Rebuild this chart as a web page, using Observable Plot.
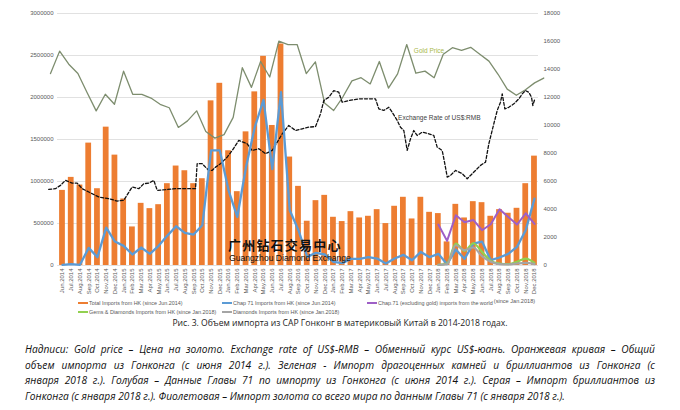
<!DOCTYPE html>
<html><head><meta charset="utf-8">
<script src="https://cdn.jsdelivr.net/npm/d3@7"></script>
<script src="https://cdn.jsdelivr.net/npm/@observablehq/plot@0.6"></script>
<style>
body{margin:0;background:#fff;}
#wrap{position:relative;width:680px;height:410px;overflow:hidden;font-family:"Liberation Sans",Arial,sans-serif;}
#chart{position:absolute;left:0;top:0;}
.lg{position:absolute;font-size:5.4px;color:#595959;line-height:8px;white-space:nowrap;}
.sw{display:inline-block;width:10px;height:2px;vertical-align:middle;margin-right:1px;position:relative;top:-1px;}
.sup{font-size:5.6px;position:relative;top:-2px;margin-left:1px;}
#cap{position:absolute;left:0;width:680px;top:317px;text-align:center;font-size:8.6px;color:#222;font-family:"Open Sans","Liberation Sans",sans-serif;}
#para{position:absolute;left:25px;width:630px;top:342px;font-family:"Open Sans","Liberation Sans",sans-serif;font-style:italic;font-size:10.2px;color:#111;line-height:15.5px;}
#para div{text-align:justify;text-align-last:justify;white-space:nowrap;}
#para div.last{text-align-last:left;}
#wm1{position:absolute;left:228px;top:237px;font-family:"Noto Sans CJK SC",sans-serif;font-weight:bold;font-size:13px;letter-spacing:1.2px;color:#111;line-height:16px;}
#wm2{position:absolute;left:229px;top:253px;font-size:8.6px;color:#111;line-height:10px;}
</style></head>
<body><div id="wrap">
<div id="chart"></div>
<div id="wm1">广州钻石交易中心</div>
<div id="wm2">Guangzhou Diamond Exchange</div>
<div class="lg" style="left:78px;top:299px;"><span class="sw" style="background:#ED7D31"></span>Total Imports from HK (since Jun.2014)</div>
<div class="lg" style="left:222px;top:299px;"><span class="sw" style="background:#5B9BD5"></span>Chap 71 Imports from HK (since Jun.2014)</div>
<div class="lg" style="left:367px;top:299px;"><span class="sw" style="background:#9E5FC6"></span>Chap.71 (excluding gold) imports from the world<span class="sup">(since Jan.2018)</span></div>
<div class="lg" style="left:78px;top:308px;"><span class="sw" style="background:#92D050"></span>Gems &amp; Diamonds Imports from HK (since Jan.2018)</div>
<div class="lg" style="left:222px;top:308px;"><span class="sw" style="background:#A5A5A5"></span>Diamonds Imports from HK (since Jan.2018)</div>
<div id="cap">Рис. 3. Объем импорта из САР Гонконг в материковый Китай в 2014-2018 годах.</div>
<div id="para">
<div>Надписи: Gold price – Цена на золото. Exchange rate of US$-RMB – Обменный курс US$-юань. Оранжевая кривая – Общий</div>
<div>объем импорта из Гонконга (с июня 2014 г.). Зеленая - Импорт драгоценных камней и бриллиантов из Гонконга (с</div>
<div>января 2018 г.). Голубая – Данные Главы 71 по импорту из Гонконга (с июня 2014 г.). Серая – Импорт бриллиантов из</div>
<div class="last">Гонконга (с января 2018 г.). Фиолетовая – Импорт золота со всего мира по данным Главы 71 (с января 2018 г.).</div>
</div>
</div>
<script>
const months = ["Jun.2014","Jul.2014","Aug.2014","Sep.2014","Oct.2014","Nov.2014","Dec.2014",
"Jan.2015","Feb.2015","Mar.2015","Apr.2015","May.2015","Jun.2015","Jul.2015","Aug.2015","Sep.2015","Oct.2015","Nov.2015","Dec.2015",
"Jan.2016","Feb.2016","Mar.2016","Apr.2016","May.2016","Jun.2016","Jul.2016","Aug.2016","Sep.2016","Oct.2016","Nov.2016","Dec.2016",
"Jan.2017","Feb.2017","Mar.2017","Apr.2017","May.2017","Jun.2017","Jul.2017","Aug.2017","Sep.2017","Oct.2017","Nov.2017","Dec.2017",
"Jan.2018","Feb.2018","Mar.2018","Apr.2018","May.2018","Jun.2018","Jul.2018","Aug.2018","Sep.2018","Oct.2018","Nov.2018","Dec.2018"];

const totalImports = [894000,1049000,958000,1457000,914000,1647000,1314000,
792000,459000,740000,677000,724000,974000,1184000,1128000,974000,1033000,1960000,2169000,
1366000,879000,1591000,2067000,2490000,1667000,2637000,1291000,942000,527000,772000,835000,
574000,523000,641000,566000,586000,665000,499000,705000,812000,554000,812000,633000,
618000,281000,728000,566000,760000,748000,586000,665000,622000,681000,974000,1302000];

const chap71HK = [8000,16000,8000,210000,99000,451000,285000,
234000,131000,214000,139000,234000,356000,467000,388000,368000,479000,1370000,1370000,
895000,578000,1172000,1647000,1972000,1148000,2063000,657000,420000,103000,150000,131000,
44000,28000,79000,79000,99000,83000,24000,83000,127000,63000,162000,99000,
139000,16000,190000,79000,261000,285000,63000,95000,139000,222000,420000,796000];

// 2018 series (Jan.2018 - Dec.2018)
const chap71World = [487000,293000,598000,515000,542000,420000,491000,669000,578000,487000,622000,495000];
const gemsDiamondsHK = [8000,24000,261000,174000,265000,162000,55000,24000,16000,44000,83000,32000];
const diamondsHK = [8000,16000,241000,182000,214000,111000,44000,16000,12000,24000,32000,16000];

// Gold price overlay (USD/oz, secondary hidden axis), its own monthly sampling
const goldPrice = [1246,1311,1273,1246,1191,1138,1186,1157,1253,1186,1186,1175,1157,1147,1090,1109,1138,1078,1059,1069,
1119,1263,1206,1281,1236,1340,1330,1330,1246,1280,1161,1139,1178,1225,1234,1216,1281,1204,1245,1330,
1247,1253,1234,1302,1321,1313,1322,1302,1282,1244,1201,1183,1199,1219,1233];
const goldFirstMonth = -1.37, goldMonthStep = 1.045;

// Exchange rate overlay: [months since Jun.2014, RMB per USD]
const exchangeRate = [[-1.57,6.186],[-0.80,6.191],[-0.23,6.217],[0.34,6.256],[1.11,6.235],[1.68,6.235],[2.25,6.191],[3.01,6.165],[4.15,6.126],[5.30,6.113],[6.26,6.094],[7.01,6.100],[7.97,6.204],[8.73,6.191],[9.30,6.230],[9.87,6.235],[10.45,6.256],[10.84,6.178],[11.78,6.183],[12.93,6.191],[14.07,6.191],[15.22,6.191],[15.41,6.387],[15.98,6.387],[16.74,6.334],[17.12,6.334],[17.51,6.360],[18.08,6.387],[18.84,6.438],[19.42,6.491],[20.17,6.569],[21.13,6.543],[21.70,6.491],[22.46,6.504],[23.23,6.465],[23.99,6.491],[24.57,6.556],[25.14,6.621],[25.89,6.686],[26.66,6.647],[27.43,6.660],[28.18,6.673],[28.95,6.678],[29.52,6.778],[29.90,6.882],[30.47,6.908],[31.04,6.960],[31.61,6.947],[32.00,6.869],[32.76,6.882],[33.90,6.895],[35.05,6.895],[35.81,6.895],[36.19,6.817],[36.76,6.804],[37.33,6.829],[37.72,6.790],[38.30,6.725],[38.67,6.673],[39.05,6.647],[39.44,6.491],[39.82,6.582],[40.19,6.647],[40.58,6.608],[41.16,6.634],[41.91,6.621],[42.48,6.608],[42.87,6.517],[43.44,6.491],[43.74,6.387],[44.02,6.282],[44.39,6.295],[44.97,6.334],[45.73,6.309],[46.30,6.269],[46.68,6.295],[47.25,6.334],[47.83,6.374],[48.40,6.399],[48.78,6.543],[49.35,6.700],[49.74,6.804],[50.11,6.869],[50.31,6.934],[50.61,6.817],[51.06,6.829],[51.64,6.856],[52.21,6.895],[52.60,6.934],[52.97,6.960],[53.35,6.947],[53.66,6.908],[53.81,6.843],[54.04,6.895]];

const leftTicks = [0,500000,1000000,1500000,2000000,2500000,3000000];
const rightTicks = [0,2000,4000,6000,8000,10000,12000,14000,16000,18000];
const rightMax = 18000, leftMax = 3000000;
const goldAxis = [690,1420];
const rateAxis = [5.589,7.564];

const goldToY = d3.scaleLinear(goldAxis,[0,leftMax]);
const rateToY = d3.scaleLinear(rateAxis,[0,leftMax]);
const rightToY = v => v*leftMax/rightMax;

const main = months.map((m,i)=>({i, m, total: totalImports[i], chap71: chap71HK[i]}));
const s2018 = chap71World.map((v,k)=>({i: 43+k, world: v, gems: gemsDiamondsHK[k], diam: diamondsHK[k]}));
const gold = goldPrice.map((v,k)=>({x: goldFirstMonth + k*goldMonthStep, y: goldToY(v)}));
const exch = exchangeRate.map(([x,r])=>({x, y: rateToY(r)}));

const chart = Plot.plot({
  width: 680, height: 298,
  marginLeft: 57, marginRight: 142, marginTop: 13, marginBottom: 33,
  style: {fontFamily: "Liberation Sans, Arial, sans-serif", fontSize: "6px", color: "#595959", background: "transparent"},
  x: {type: "linear", domain: [-0.57, 54.46]},
  y: {domain: [0, leftMax]},
  marks: [
    Plot.gridY(leftTicks, {stroke: "#d9d9d9", strokeOpacity: 1, strokeWidth: 0.8}),
    Plot.axisY(leftTicks, {anchor: "left", tickSize: 0, tickPadding: 4, tickFormat: d => String(d), fontSize: 6}),
    Plot.axisY(rightTicks.map(rightToY), {anchor: "right", tickSize: 0, tickPadding: 5, tickFormat: d => String(Math.round(d*rightMax/leftMax)), fontSize: 6}),
    Plot.axisX(d3.range(months.length), {anchor: "bottom", tickSize: 0, tickPadding: 3, tickRotate: -90, tickFormat: i => months[i], fontSize: 6}),
    Plot.rect(main, {x1: d => d.i - 0.33, x2: d => d.i + 0.33, y1: 0, y2: "total", fill: "#ED7D31"}),
    Plot.line(gold, {x: "x", y: "y", stroke: "#7d8d6e", strokeWidth: 1.3}),
    Plot.line(exch, {x: "x", y: "y", stroke: "#111", strokeWidth: 1.3, strokeDasharray: "3,2"}),
    Plot.line(main, {x: "i", y: "chap71", stroke: "#5B9BD5", strokeWidth: 2.3, strokeLinejoin: "round"}),
    Plot.line(s2018, {x: "i", y: "world", stroke: "#9E5FC6", strokeWidth: 2, strokeLinejoin: "round"}),
    Plot.line(s2018, {x: "i", y: "gems", stroke: "#92D050", strokeWidth: 2.2, curve: "monotone-x"}),
    Plot.line(s2018, {x: "i", y: "diam", stroke: "#A5A5A5", strokeWidth: 2.2, curve: "monotone-x"}),
    Plot.text(["Gold Price"], {x: 40.2, y: goldToY(1311), text: d => d, textAnchor: "start", fill: "#a9b84a", fontSize: 6.5}),
    Plot.text(["Exchange Rate of US$:RMB"], {x: 38.4, y: rateToY(6.749), text: d => d, textAnchor: "start", fill: "#404040", fontSize: 6.5})
  ]
});
document.getElementById("chart").append(chart);
</script>
</body></html>
